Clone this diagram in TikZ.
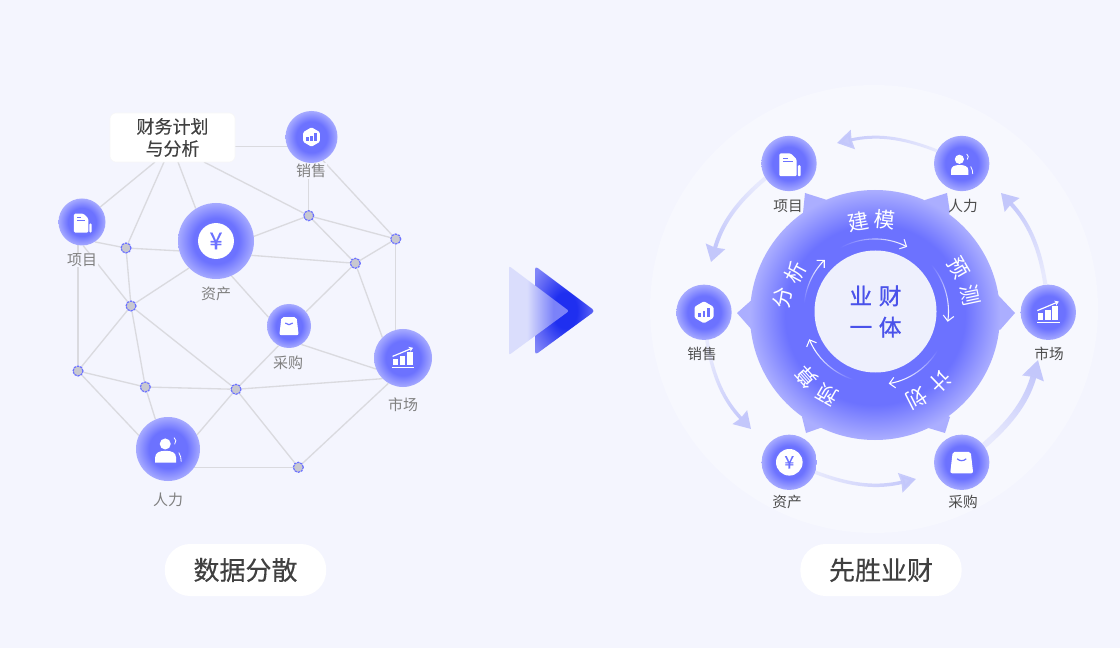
\documentclass[tikz,border=0pt]{standalone}
\usepackage{fontspec}
\setmainfont{Noto Sans CJK SC}
\newfontfamily\medfont{Noto Sans CJK SC}[FakeBold=0.3]
\newfontfamily\corefont{Noto Sans CJK SC}[FakeBold=1]
\usetikzlibrary{shapes.geometric, arrows.meta, backgrounds, fadings}

\definecolor{pagebg}{HTML}{F4F5FE}
\definecolor{palering}{HTML}{F7F8FE}
\definecolor{iconblue}{HTML}{6C72FF}
\definecolor{iconedge}{HTML}{A6AAFF}
\definecolor{hubedge}{HTML}{ABAEFF}
\definecolor{corefill}{HTML}{EEF0FD}
\definecolor{coretext}{HTML}{4A52EA}
\definecolor{linkgrey}{HTML}{DADADF}
\definecolor{dotgrey}{HTML}{C8C8D0}
\definecolor{flowblue}{HTML}{C3C7FB}
\definecolor{playpale}{HTML}{DADDFC}
\definecolor{playmid}{HTML}{7B82F9}
\definecolor{playdeep}{HTML}{1F2FF0}
\definecolor{playlight}{HTML}{6067F5}
\definecolor{playtip}{HTML}{8085F8}

\pgfdeclareradialshading{icon_glow}{\pgfpoint{0bp}{0bp}}{color(0bp)=(iconblue); color(15bp)=(iconblue); color(25bp)=(iconedge); color(50bp)=(iconedge)}
\pgfdeclareradialshading{hub_glow}{\pgfpoint{0bp}{0bp}}{color(0bp)=(iconblue); color(18bp)=(iconblue); color(25bp)=(hubedge); color(50bp)=(hubedge)}
\pgfdeclarehorizontalshading{play_back}{100bp}{color(0bp)=(playpale); color(40bp)=(playpale); color(62bp)=(playmid); color(100bp)=(playmid)}
\pgfdeclareradialshading{play_front}{\pgfpoint{0bp}{0bp}}{color(0bp)=(playdeep); color(10bp)=(playdeep); color(24bp)=(playlight); color(32bp)=(playtip); color(50bp)=(playtip)}
\tikzfading[name=tail_fade, left color=transparent!70, right color=transparent!0]
\tikzfading[name=arc_fade, left color=transparent!100, right color=transparent!0]

\tikzstyle{link} = [draw=linkgrey, line width=1pt]
\tikzstyle{dot} = [circle, minimum size=7.5pt, inner sep=0pt, fill=dotgrey, draw=iconblue, line width=0.9pt, dash pattern=on 1.8pt off 0.6pt]
\tikzstyle{icon} = [circle, inner sep=0pt, shade, shading=icon_glow]
\tikzstyle{tag_grey} = [inner sep=0.6pt, fill=pagebg, text=black!50, font=\fontsize{11.25}{13}\selectfont]
\tikzstyle{tag_dark} = [inner sep=0pt, text=black!70, font=\fontsize{11}{13}\selectfont]
\tikzstyle{pill} = [rectangle, rounded corners=19pt, minimum width=121pt, minimum height=39pt, fill=white, text=black!75, font=\medfont\fontsize{19.5}{22}\selectfont]
\tikzstyle{ring_text} = [inner sep=0pt, text=white, font=\fontsize{15.75}{16}\selectfont]
\tikzstyle{spike} = [fill=hubedge]
\tikzstyle{flow} = [draw=flowblue, path fading=tail_fade, -{Stealth[length=12pt,width=14.5pt,inset=0.8pt]}]
\tikzstyle{hub_arc} = [draw=white, line width=0.8pt, path fading=arc_fade, -{Straight Barb[length=4pt,width=8pt]}]

\tikzset{
  icon_bars/.pic={
    \fill [white] (-11.5,-10.8) rectangle (11.5,-9.4);
    \fill [white] (-10.5,-7.7) rectangle (-5,-1);
    \fill [white] (-3.5,-7.7) rectangle (2.3,2.3);
    \fill [white] (4,-7.7) rectangle (10,6.3);
    \draw [white, line width=0.9pt, -{Stealth[length=3pt,width=4pt]}] (-11,1.7) -- (-3,5) -- (10.5,10.7);
  },
  icon_bag/.pic={
    \fill [white, rounded corners=1.5] (-9,10.5) -- (9,10.5) -- (11.5,-11) -- (-11.5,-11) -- cycle;
    \draw [iconblue, line width=0.9pt] (-4.5,3.5) .. controls (-2,1) and (2,1) .. (4.5,3.5);
  },
  icon_user/.pic={
    \fill [white] (-2.3,4.2) circle (4.6);
    \fill [white] (-10.7,-11.3) -- (-10.7,-7) .. controls (-10.7,-3) and (-7,-1.5) .. (-2,-1.5) .. controls (3,-1.5) and (6.7,-3) .. (6.7,-7) -- (6.7,-11.3) -- cycle;
    \draw [white, line width=0.6pt] (5,9.5) .. controls (7,8) and (7,6) .. (5.5,4);
    \draw [white, line width=0.6pt] (9,-3) .. controls (10.5,-5) and (11,-8) .. (11,-10.5);
  },
  icon_doc/.pic={
    \fill [white, rounded corners=1] (-9.7,10) -- (2,10) -- (7.7,4) -- (7.7,-12.7) -- (-9.7,-12.7) -- cycle;
    \fill [white, rounded corners=0.8] (8.8,-1.7) rectangle (11.7,-12.7);
    \fill [iconblue] (-5.7,5.5) rectangle (-1,4.5);
    \fill [iconblue] (-5.7,2.7) rectangle (4,1.7);
  },
  icon_hex/.pic={
    \fill [white, rounded corners=1] (0,11) -- (9.5,5.5) -- (9.5,-5.5) -- (0,-11) -- (-9.5,-5.5) -- (-9.5,5.5) -- cycle;
    \fill [iconblue] (-6,-4.5) rectangle (-3.2,-0.5);
    \fill [iconblue] (-1.4,-4.5) rectangle (1.4,1.5);
    \fill [iconblue] (3.2,-4.5) rectangle (6,4);
  },
  icon_yen/.pic={
    \fill [white] (0,0) circle (13.3);
    \node (yen_sign) [transform shape, inner sep=0pt, text=iconblue, font=\medfont\fontsize{13}{13}\selectfont] at (0,0) {¥};
  }
}

\begin{document}
\begin{tikzpicture}[x=0.75pt, y=0.75pt]
    \useasboundingbox (0,0) rectangle (1120,-648);
    \begin{scope}[on background layer]
        \fill [pagebg] (0,0) rectangle (1120,-648);
        \fill [palering] (874,-309) circle (224);
    \end{scope}

    % left side
    \node (plan_box) [rectangle, rounded corners=4.5pt, minimum width=93.75pt, minimum height=36.75pt, inner sep=0pt, fill=white, draw=black!3, align=center, text=black!75, font=\medfont\fontsize{13.5}{16.5}\selectfont] at (172.5,-137.5) {财务计划\\与分析};
    \node (sales) [icon, minimum size=39pt] at (311.5,-137) {};
    \node (project) [icon, minimum size=35.25pt] at (82,-222) {};
    \node (asset) [icon, minimum size=57pt] at (216,-241) {};
    \node (purchase) [icon, minimum size=33pt] at (289,-326) {};
    \node (market) [icon, minimum size=43.5pt] at (403,-358) {};
    \node (people) [icon, minimum size=48pt] at (168,-449) {};
    \node (dot1) [dot] at (308.7,-215.7) {};
    \node (dot2) [dot] at (395.7,-239) {};
    \node (dot3) [dot] at (355.3,-263.3) {};
    \node (dot4) [dot] at (126,-248) {};
    \node (dot5) [dot] at (131,-306) {};
    \node (dot6) [dot] at (78,-371) {};
    \node (dot7) [dot] at (145.3,-387) {};
    \node (dot8) [dot] at (236,-389.3) {};
    \node (dot9) [dot] at (298.3,-467.3) {};
    \coordinate (plan_out1) at (155,-162);
    \coordinate (plan_out2) at (164,-162);
    \coordinate (plan_out3) at (178,-162);
    \coordinate (plan_out4) at (204,-162);
    \coordinate (plan_out5) at (235,-146.5);

    \begin{scope}[on background layer]
        \draw [link] (plan_out5) -- (plan_out5 -| sales);
        \draw [link] (plan_out1) -- (project);
        \draw [link] (plan_out2) -- (dot4);
        \draw [link] (plan_out3) -- (asset.122);
        \draw [link] (plan_out4) -- (dot1);
        \draw [link] (project.303) -- (dot4);
        \draw [link] (project.273) -- (dot5);
        \draw [link] (dot6) -- (dot6 |- project);
        \draw [link] (dot4) -- (asset.195);
        \draw [link] (dot4) -- (dot5);
        \draw [link] (dot5) -- (asset.225);
        \draw [link] (dot5) -- (dot6);
        \draw [link] (dot5) -- (dot7);
        \draw [link] (dot5) -- (dot8);
        \draw [link] (dot6) -- (dot7);
        \draw [link] (dot6) -- (people.155);
        \draw [link] (dot7) -- (dot8);
        \draw [link] (dot7) -- (people.113);
        \draw [link] (dot8) -- (purchase.242);
        \draw [link] (dot8) -- (people.26);
        \draw [link] (dot8) -- (market.225);
        \draw [link] (dot8) -- (dot9);
        \draw [link] (dot9) -- (dot9 -| people);
        \draw [link] (dot9) -- (market.240);
        \draw [link] (asset.-66) -- (purchase.157);
        \draw [link] (asset.7) -- (dot1);
        \draw [link] (asset.-22) -- (dot3);
        \draw [link] (dot1) -- (dot2);
        \draw [link] (dot1) -- (dot3);
        \draw [link] (dot1) -- (dot1 |- sales);
        \draw [link] (dot2) -- (dot3);
        \draw [link] (dot2) -- (dot2 |- market);
        \draw [link] (dot2) -- (sales.-64);
        \draw [link] (dot3) -- (purchase.40);
        \draw [link] (dot3) -- (market.135);
        \draw [link] (purchase.-56) -- (market.202);
    \end{scope}

    \node (sales_tag) [tag_grey] at (311,-171) {销售};
    \node (project_tag) [tag_grey] at (82,-260) {项目};
    \node (asset_tag) [tag_grey] at (216,-294) {资产};
    \node (purchase_tag) [tag_grey] at (288,-363) {采购};
    \node (market_tag) [tag_grey] at (403,-405) {市场};
    \node (people_tag) [tag_grey] at (168,-500) {人力};
    \pic [scale=0.88] at (sales) {icon_hex};
    \pic [scale=0.83] at (project) {icon_doc};
    \pic [scale=1.35] at (asset) {icon_yen};
    \pic [scale=0.84] at (purchase) {icon_bag};
    \pic [scale=0.95] at (market) {icon_bars};
    \pic [scale=1.2] at (people) {icon_user};

    \node (scatter_pill) [pill] at (245.5,-570) {数据分散};

    % middle arrow
    \shade [shading=play_front, rounded corners=2.5] (535,-266) -- (595,-311) -- (535,-355) -- cycle;
    \shade [shading=play_back, rounded corners=1.5] (509,-266) -- (569,-311) -- (509,-355) -- cycle;

    % right side
    \fill [spike] (805,-193) -- (827,-200) -- (830,-230) -- (803,-213) -- cycle;
    \fill [spike] (947,-193) -- (925,-200) -- (920,-230) -- (950,-213) -- cycle;
    \fill [spike] (737,-313) -- (755,-297) -- (780,-315) -- (752,-330) -- cycle;
    \fill [spike] (1015,-313) -- (998,-295) -- (970,-315) -- (1000,-330) -- cycle;
    \fill [spike] (806,-433) -- (802,-417) -- (830,-400) -- (823,-427) -- cycle;
    \fill [spike] (945,-433) -- (950,-417) -- (920,-400) -- (925,-427) -- cycle;
    \node (hub) [circle, inner sep=0pt, minimum size=187.5pt, shade, shading=hub_glow] at (875,-315) {};
    \node (core) [circle, inner sep=0pt, minimum size=91.5pt, fill=corefill, align=center, text=coretext, font=\corefont\fontsize{17}{23.5}\selectfont] at (875.5,-311.5) {业\hspace{5pt}财\\一\hspace{5pt}体};

    \draw [hub_arc, fading angle=0] (840,-248) arc (119:63:71.5);
    \draw [hub_arc, fading angle=-71] (927,-260) arc (45:-8:73);
    \draw [hub_arc, fading angle=216] (942,-342) arc (-24:-80:72);
    \draw [hub_arc, fading angle=143] (863,-382) arc (-100:-157:72);
    \draw [hub_arc, fading angle=68] (804,-310) arc (180:135:71);

    \node (ring_jian) [ring_text, rotate=10] at (858,-222) {建};
    \node (ring_mo) [ring_text, rotate=-6] at (885,-220) {模};
    \node (ring_yu) [ring_text, rotate=-60] at (958,-268) {预};
    \node (ring_ce) [ring_text, rotate=-78] at (970,-295) {测};
    \node (ring_ji) [ring_text, rotate=-136] at (940,-382) {计};
    \node (ring_hua) [ring_text, rotate=-153] at (917,-398) {划};
    \node (ring_yu2) [ring_text, rotate=150] at (828,-395) {预};
    \node (ring_suan) [ring_text, rotate=132] at (806,-377) {算};
    \node (ring_fen) [ring_text, rotate=80] at (783,-298) {分};
    \node (ring_xi) [ring_text, rotate=62] at (795,-272) {析};

    \node (project2) [icon, minimum size=41.5pt] at (789,-163.5) {};
    \node (people2) [icon, minimum size=41.5pt] at (961.7,-163.5) {};
    \node (market2) [icon, minimum size=41.5pt] at (1048.3,-312.3) {};
    \node (sales2) [icon, minimum size=41.5pt] at (704,-312.3) {};
    \node (asset2) [icon, minimum size=41.5pt] at (789.3,-462.3) {};
    \node (purchase2) [icon, minimum size=41.5pt] at (961.7,-462.3) {};
    \coordinate (flow_tip1) at (837,-143);
    \coordinate (flow_tip2) at (711,-262);
    \coordinate (flow_tip3) at (751,-429);
    \coordinate (flow_tip4) at (916,-479);
    \coordinate (flow_tip5) at (1038,-360);
    \coordinate (flow_tip6) at (1001,-193);

    \draw [flow, line width=2.25pt, fading angle=180] (people2.153) to[bend right=17] (flow_tip1);
    \draw [flow, line width=3pt, fading angle=237] (project2.212) to[bend right=17] (flow_tip2);
    \draw [flow, line width=2.6pt, fading angle=-62] (sales2.276) to[bend right=17] (flow_tip3);
    \draw [flow, line width=2.6pt, fading angle=-3] (asset2.339) to[bend right=17] (flow_tip4);
    \draw [flow, line width=4.5pt, fading angle=58, -{Stealth[length=14pt,width=16pt,inset=0.8pt]}] (purchase2.37) to[bend right=17] (flow_tip5);
    \draw [flow, line width=3pt, fading angle=116] (market2.96) to[bend right=17] (flow_tip6);

    \node (project2_tag) [tag_dark] at (788,-206) {项目};
    \node (people2_tag) [tag_dark] at (963,-206) {人力};
    \node (market2_tag) [tag_dark] at (1049,-354) {市场};
    \node (sales2_tag) [tag_dark] at (702,-354) {销售};
    \node (asset2_tag) [tag_dark] at (787,-502) {资产};
    \node (purchase2_tag) [tag_dark] at (963,-502) {采购};
    \pic at (project2) {icon_doc};
    \pic at (people2) {icon_user};
    \pic at (market2) {icon_bars};
    \pic at (sales2) {icon_hex};
    \pic at (asset2) {icon_yen};
    \pic at (purchase2) {icon_bag};

    \node (win_pill) [pill] at (881,-570) {先胜业财};
\end{tikzpicture}
\end{document}
